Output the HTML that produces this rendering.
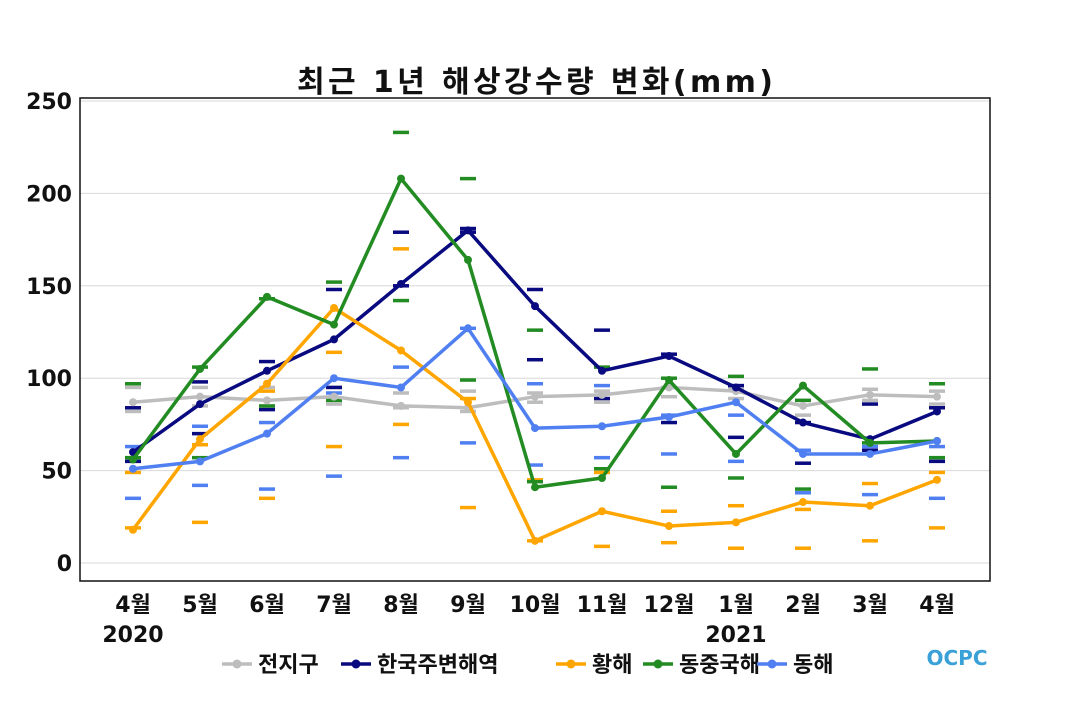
<!DOCTYPE html>
<html><head><meta charset="utf-8"><style>
body{margin:0;background:#fff;width:1070px;height:700px;overflow:hidden}
svg text{font-family:"DejaVu Sans","Noto Sans CJK KR",sans-serif;font-weight:bold;fill:#111}
</style></head><body>
<svg id="chart" width="1070" height="700" viewBox="0 0 1070 700" xmlns="http://www.w3.org/2000/svg">
<text x="535" y="92" font-size="30" text-anchor="middle" textLength="476">최근 1년 해상강수량 변화(mm)</text>
<g id="grid"></g>
<g id="ranges"></g>
<g id="lines"></g>
<rect x="80" y="98" width="910" height="483" fill="none" stroke="#111" stroke-width="1.5"/>
<g id="axes"></g>
<g id="legend"></g>
<g>
<text x="957" y="665" font-size="20" text-anchor="middle" style="fill:#3aa0d8">OCPC</text>
</g>
</svg>
<script>
const categories=["4월","5월","6월","7월","8월","9월","10월","11월","12월","1월","2월","3월","4월"];
const years=["2020","","","","","","","","","2021","","",""];
const yTicks=[0,50,100,150,200,250];
const seriesNames=["전지구","한국주변해역","황해","동중국해","동해"];
const seriesColors=["#bdbdbd","#0a0a80","#ffa500","#228b22","#4f7ff0"];
const globalVals=[87,90,88,90,85,84,90,91,95,93,85,91,90];
const koreaVals=[60,86,104,121,151,180,139,104,112,95,76,67,82];
const yellowVals=[18,67,97,138,115,87,12,28,20,22,33,31,45];
const ecsVals=[56,105,144,129,208,164,41,46,99,59,96,65,66];
const eastVals=[51,55,70,100,95,127,73,74,79,87,59,59,66];
const globalHi=[95,95,95,95,92,93,92,93,95,94,88,94,93];
const globalLo=[82,85,84,86,84,82,87,87,90,89,80,88,86];
const koreaHi=[84,98,109,148,179,181,148,126,113,96,76,86,84];
const koreaLo=[55,70,83,95,150,179,110,89,76,68,54,61,55];
const yellowHi=[49,64,93,114,170,89,45,49,28,31,29,43,49];
const yellowLo=[19,22,35,63,75,30,12,9,11,8,8,12,19];
const ecsHi=[97,106,143,152,233,208,126,106,100,101,88,105,97];
const ecsLo=[57,57,85,88,142,99,44,51,41,46,40,65,57];
const eastHi=[63,74,76,92,106,127,97,96,80,80,61,63,63];
const eastLo=[35,42,40,47,57,65,53,57,59,55,38,37,35];
const allVals=[globalVals,koreaVals,yellowVals,ecsVals,eastVals];
const allHi=[globalHi,koreaHi,yellowHi,ecsHi,eastHi];
const allLo=[globalLo,koreaLo,yellowLo,ecsLo,eastLo];
const NS="http://www.w3.org/2000/svg";
const xS=i=>133+i*67;
const yS=v=>563-v*1.848;
function mk(tag,attrs,parent){const e=document.createElementNS(NS,tag);for(const k in attrs)e.setAttribute(k,attrs[k]);parent.appendChild(e);return e;}
const grid=document.getElementById('grid'),axes=document.getElementById('axes'),ranges=document.getElementById('ranges'),lines=document.getElementById('lines'),legend=document.getElementById('legend');
yTicks.forEach(t=>{
 const l=mk('line',{x1:80,x2:990,y1:yS(t),y2:yS(t),stroke:'#d8d8d8','stroke-width':1},grid);
 
 
 const tx=mk('text',{x:72,y:yS(t)+8,'font-size':22,'text-anchor':'end'},axes);tx.textContent=t;
 
 
});
categories.forEach((c,i)=>{
 const tx=mk('text',{x:xS(i),y:612,'font-size':22,'text-anchor':'middle'},axes);tx.textContent=c;
 
 
 if(years[i]){const y=mk('text',{x:xS(i),y:642,'font-size':22,'text-anchor':'middle'},axes);y.textContent=years[i];
 
 }
});
allVals.forEach((vals,s)=>{
 const col=seriesColors[s];
 [allHi[s],allLo[s]].forEach(arr=>arr.forEach((v,i)=>{
  const d=mk('line',{x1:xS(i)-8,x2:xS(i)+8,y1:yS(v),y2:yS(v),stroke:col,'stroke-width':3.5},ranges);
  
  
 }));
});
allVals.forEach((vals,s)=>{
 const col=seriesColors[s];
 const p=mk('polyline',{points:vals.map((v,i)=>xS(i)+','+yS(v)).join(' '),fill:'none',stroke:col,'stroke-width':3.5,'stroke-linejoin':'round'},lines);
 
 
 vals.forEach((v,i)=>{const c=mk('circle',{cx:xS(i),cy:yS(v),r:4,fill:col},lines);
 
 });
});
const legX=[222,341,556,643,757];
seriesNames.forEach((n,s)=>{
 const g=mk('g',{},legend);
 
 
 mk('line',{x1:legX[s],x2:legX[s]+30,y1:664,y2:664,stroke:seriesColors[s],'stroke-width':3.5},g);
 mk('circle',{cx:legX[s]+15,cy:664,r:4.5,fill:seriesColors[s]},g);
 const t=mk('text',{x:legX[s]+36,y:672,'font-size':22},g);t.textContent=n;
});
</script>
</body></html>
